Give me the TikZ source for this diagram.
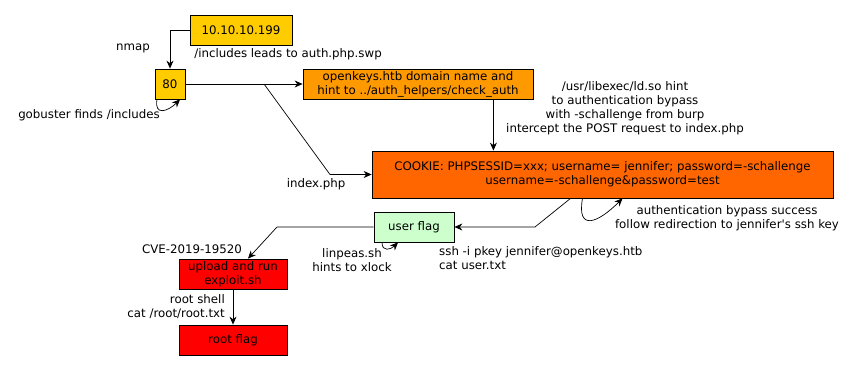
\documentclass[tikz,border=0pt]{standalone}
\usepackage{fontspec}
\setmainfont{DejaVu Sans}
\usetikzlibrary{arrows.meta}
\definecolor{ipgold}{HTML}{FFCC00}
\definecolor{keyorange}{HTML}{FF9900}
\definecolor{cookieorange}{HTML}{FF6600}
\definecolor{flaggreen}{HTML}{CCFFCC}
\definecolor{rootred}{HTML}{FF0000}
\begin{document}
\begin{tikzpicture}[x=1pt, y=-1pt,
    every node/.style={font=\fontsize{11.8}{14}\selectfont},
    box/.style={draw, line width=0.8pt, minimum height=30, inner sep=0, align=center},
    arr/.style={-{Stealth[length=8pt, width=7pt]}, line width=0.7pt},
    lbl/.style={align=center, inner sep=0}]
    \useasboundingbox (0,0) rectangle (859,371);

    % boxes
    \node[box, fill=ipgold, minimum width=102] (ip) at (241,30) {10.10.10.199};
    \node[box, fill=ipgold, minimum width=30] (p80) at (170,84) {80};
    \node[box, fill=keyorange, minimum width=230] (keys) at (418,84)
        {openkeys.htb domain name and\\hint to ../auth\_helpers/check\_auth};
    \node[box, fill=cookieorange, minimum width=461, minimum height=47] (cookie) at (602.5,174.5)
        {COOKIE: PHPSESSID=xxx; username= jennifer; password=-schallenge\\username=-schallenge\&password=test};
    \node[box, fill=flaggreen, minimum width=80] (user) at (414,227) {user flag};
    \node[box, fill=rootred, minimum width=108] (upload) at (233,274) {upload and run\\exploit.sh};
    \node[box, fill=rootred, minimum width=108] (root) at (233,340) {root flag};

    % helper points
    \coordinate (fork) at (264,84);
    \coordinate (bend) at (330,174.5);
    \coordinate (ujoint) at (535,227);
    \coordinate (cjoint) at (277,227);

    % connectors
    \draw[arr] (ip.west) -| (p80.north);
    \draw[arr] ([xshift=-13]p80.south) to[out=-100, in=-135, looseness=1.9] ([xshift=10]p80.south);
    \draw[arr] (p80.east) -- (keys.west);
    \draw[arr] (fork) -- (bend) -- (cookie.west);
    \draw[arr] ([xshift=-40]keys.south east) -- ([xshift=-40]keys.south east |- cookie.north);
    \draw[arr] ([xshift=-20]cookie.south) to[out=-100, in=-135, looseness=2.2] ([xshift=20]cookie.south);
    \draw[arr] ([xshift=-32]cookie.south) -- (ujoint) -- (user.east);
    \draw[arr] ([xshift=-32]user.south) to[out=-90, in=-135, looseness=1.6] ([xshift=-16]user.south);
    \draw[arr] (user.west) -- (cjoint) -- ([xshift=15]upload.north);
    \draw[arr] (upload.south) -- (root.north);

    % labels
    \node[lbl] (nmaplbl) at (133,48) {nmap};
    \node[lbl] (swplbl) at (288,54) {/includes leads to auth.php.swp};
    \node[lbl] (gobusterlbl) at (89,115) {gobuster finds /includes};
    \node[lbl] (indexlbl) at (316,184) {index.php};
    \node[lbl] (ldlbl) at (625,108) {/usr/libexec/ld.so hint\\to authentication bypass\\with -schallenge from burp\\intercept the POST request to index.php};
    \node[lbl] (bypasslbl) at (727,218) {authentication bypass success\\follow redirection to jennifer\textquotesingle s ssh key};
    \node[lbl, align=left, anchor=west] (sshlbl) at (439,258) {ssh -i pkey jennifer@openkeys.htb\\cat user.txt};
    \node[lbl] (linpeaslbl) at (352,260) {linpeas.sh\\hints to xlock};
    \node[lbl] (cvelbl) at (192,249) {CVE-2019-19520};
    \node[lbl, align=right, anchor=east] (rootlbl) at (225,307) {root shell\\cat /root/root.txt};
\end{tikzpicture}
\end{document}
